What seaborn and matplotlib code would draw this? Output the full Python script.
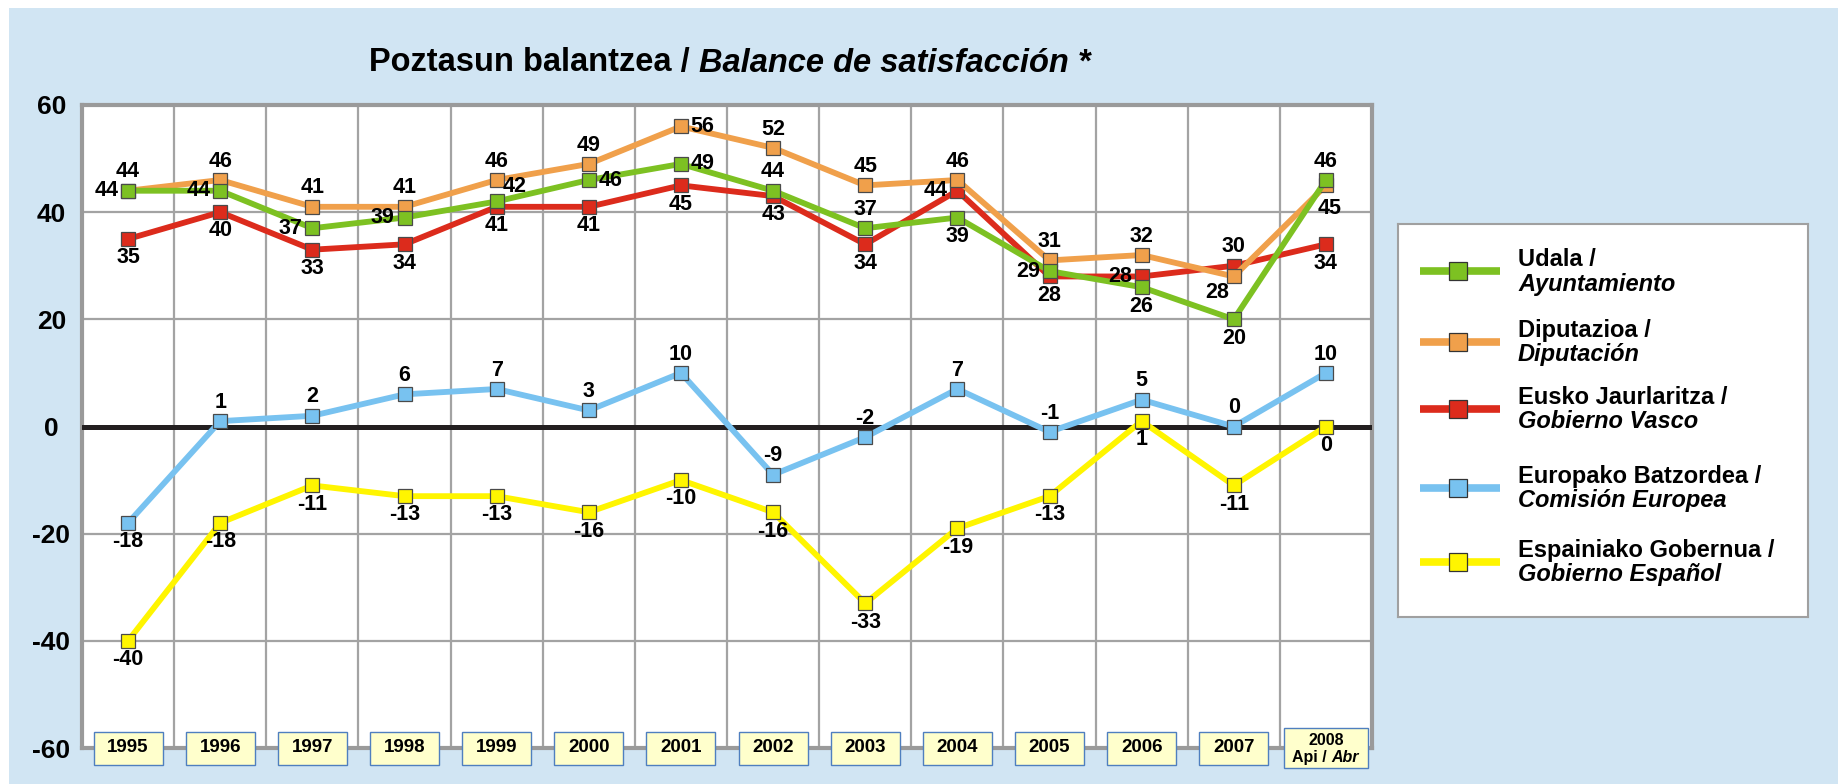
import numpy as np
import pandas as pd
import seaborn as sns
import matplotlib.pyplot as plt
from matplotlib.patches import Rectangle

# chart data
years = ["1995", "1996", "1997", "1998", "1999", "2000", "2001",
         "2002", "2003", "2004", "2005", "2006", "2007", "2008"]
udala = [44, 44, 37, 39, 42, 46, 49, 44, 37, 39, 29, 26, 20, 46]
diputazioa = [44, 46, 41, 41, 46, 49, 56, 52, 45, 46, 31, 32, 28, 45]
eusko_jaurlaritza = [35, 40, 33, 34, 41, 41, 45, 43, 34, 44, 28, 28, 30, 34]
europako_batzordea = [-18, 1, 2, 6, 7, 3, 10, -9, -2, 7, -1, 5, 0, 10]
espainiako_gobernua = [-40, -18, -11, -13, -13, -16, -10, -16, -33, -19, -13, 1, -11, 0]

series_eu = ["Udala /", "Diputazioa /", "Eusko Jaurlaritza /",
             "Europako Batzordea /", "Espainiako Gobernua /"]
series_es = ["Ayuntamiento", "Diputación", "Gobierno Vasco",
             "Comisión Europea", "Gobierno Español"]

# styling
colors = ["#7DC122", "#F0A04B", "#DC2B1C", "#78C2F0", "#FFF500"]
BG = "#D1E5F3"
GRID = "#A3A3A3"

# where each value label sits relative to its marker
label_pos = [
    ["l", "l", "l", "l", "ur", "r", "r", "a", "a", "b", "l", "b", "b", "a"],
    ["a", "a", "a", "a", "a", "a", "r", "a", "a", "a", "a", "a", "bl", "br"],
    ["b", "b", "b", "b", "b", "b", "b", "b", "b", "l", "b", "l", "a", "b"],
    ["b", "a", "a", "a", "a", "a", "a", "a", "a", "a", "a", "a", "a", "a"],
    ["b", "b", "b", "b", "b", "b", "b", "b", "b", "b", "b", "b", "b", "b"],
]
offsets = {
    "a": ((0, 6), "center", "bottom"),
    "b": ((0, -6), "center", "top"),
    "l": ((-7, 0), "right", "center"),
    "r": ((7, 0), "left", "center"),
    "ur": ((4, 3), "left", "bottom"),
    "bl": ((-3, -4), "right", "top"),
    "br": ((3, -9), "center", "top"),
}

sns.set_theme(style="white")
plt.rcParams["font.family"] = ["Liberation Sans", "DejaVu Sans"]
plt.rcParams["text.color"] = "black"
plt.rcParams["ytick.color"] = "black"
plt.rcParams["xtick.color"] = "black"

W, H = 1838, 784
fig = plt.figure(figsize=(W / 100, H / 100), dpi=100)
fig.patch.set_facecolor("white")
fig.add_artist(Rectangle((9 / W, 0), 1, (H - 8) / H, transform=fig.transFigure,
                         facecolor=BG, edgecolor="none", zorder=-10))

ax = fig.add_axes([82 / W, 1 - 748 / H, (1372 - 82) / W, (748 - 105) / H])
ax.set_facecolor("white")

x = np.arange(len(years))
all_values = [udala, diputazioa, eusko_jaurlaritza, europako_batzordea, espainiako_gobernua]
frames = []
for i, vals in enumerate(all_values):
    frames.append(pd.DataFrame({"x": x, "value": vals, "series": series_eu[i]}))
df = pd.concat(frames, ignore_index=True)

# draw order: yellow, blue, red, orange, green
for i in [4, 3, 2, 1, 0]:
    sub = df[df["series"] == series_eu[i]]
    sns.lineplot(data=sub, x="x", y="value", ax=ax, color=colors[i], linewidth=4.2,
                 marker="s", markersize=10, markeredgecolor="#4A4A4A",
                 markeredgewidth=0.9, zorder=5 + (4 - i), legend=False)
    for xi, v, p in zip(sub["x"], sub["value"], label_pos[i]):
        off, ha, va = offsets[p]
        ax.annotate(str(v), (xi, v), xytext=off, textcoords="offset points",
                    ha=ha, va=va, fontsize=15.5, fontweight="bold", color="black",
                    zorder=20)

ax.set_xlim(-0.5, len(years) - 0.5)
ax.set_ylim(-60, 60)
ax.set_xticks(np.arange(len(years) - 1) + 0.5)
ax.set_xticklabels([])
ax.set_yticks(np.arange(-60, 61, 20))
ax.set_yticklabels([str(t) for t in range(-60, 61, 20)], fontsize=19, fontweight="bold")
for lab in ax.get_yticklabels():
    lab.set_horizontalalignment("center")
ax.tick_params(axis="both", length=0)
ax.tick_params(axis="y", pad=22)
ax.set_xlabel("")
ax.set_ylabel("")
ax.grid(True, color=GRID, linewidth=1.6, zorder=0)
ax.set_axisbelow(True)
ax.axhline(0, color="#231F20", linewidth=3.6, zorder=3)
for s in ax.spines.values():
    s.set_color("#9A9A9A")
    s.set_linewidth(3)
    s.set_visible(True)

# year boxes along the bottom
tr = ax.get_xaxis_transform()
bh = 33 / (748 - 105)
for i, yr in enumerate(years):
    if i == len(years) - 1:
        bw, hh = 0.92, 40 / (748 - 105)
    else:
        bw, hh = 0.75, bh
    ax.add_patch(Rectangle((i - bw / 2, -hh / 2), bw, hh, transform=tr,
                           facecolor="#FFFFCC", edgecolor="#4F7FBF", linewidth=1.0,
                           clip_on=False, zorder=30))
    if i == len(years) - 1:
        ax.text(i, 0.011, yr, transform=tr, ha="center", va="center",
                fontsize=11.5, fontweight="bold", zorder=31, clip_on=False)
        t1 = ax.text(i - 0.37, -0.014, "Api / ", transform=tr, ha="left", va="center",
                     fontsize=11.5, fontweight="bold", zorder=31, clip_on=False)
        ax.annotate("Abr", xy=(1, 0), xycoords=t1, ha="left", va="bottom",
                    fontsize=11.5, fontweight="bold", fontstyle="italic", zorder=31)
    else:
        ax.text(i, 0, yr, transform=tr, ha="center", va="center",
                fontsize=13.5, fontweight="bold", zorder=31, clip_on=False)

# title, bold part then bold italic part
t = fig.text(369 / W, 1 - 63 / H, "Poztasun balantzea / ", ha="left", va="center",
             fontsize=23.5, fontweight="bold", color="black")
ax.annotate("Balance de satisfacción *", xy=(1, 0), xycoords=t, ha="left", va="bottom",
            fontsize=23.5, fontweight="bold", fontstyle="italic", color="black")

# legend box drawn by hand
lw_px, lh_px = 410, 393
lax = fig.add_axes([1398 / W, 1 - 617 / H, lw_px / W, lh_px / H])
lax.set_xlim(0, lw_px)
lax.set_ylim(lh_px, 0)
lax.set_xticks([])
lax.set_yticks([])
lax.set_facecolor("white")
for s in lax.spines.values():
    s.set_color("#A0A0A0")
    s.set_linewidth(1.5)
entry_y = [47, 118, 185, 264, 338]
for i in range(5):
    ey = entry_y[i]
    lax.plot([22, 102], [ey, ey], color=colors[i], linewidth=5.5, solid_capstyle="butt")
    lax.plot([60], [ey], marker="s", markersize=13, color=colors[i],
             markeredgecolor="#333333", markeredgewidth=0.9)
    lax.text(120, ey - 11, series_eu[i], ha="left", va="center",
             fontsize=17, fontweight="bold", color="black")
    lax.text(120, ey + 13, series_es[i], ha="left", va="center",
             fontsize=17, fontweight="bold", fontstyle="italic", color="black")

fig.savefig("out.png", dpi=100)
